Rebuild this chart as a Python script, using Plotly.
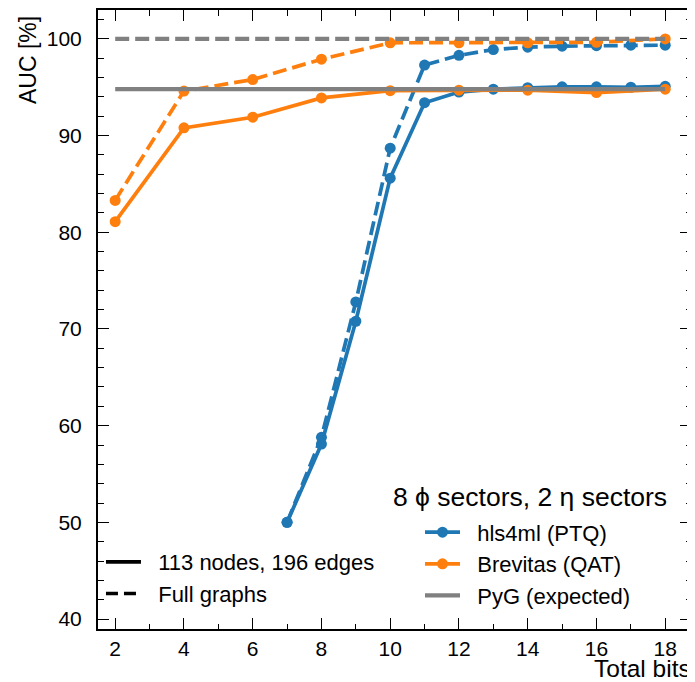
import plotly.graph_objects as go

# ---- data ----
bits_hls = [7, 8, 9, 10, 11, 12, 13, 14, 15, 16, 17, 18]
hls_sparse = [50.0, 58.1, 70.8, 85.6, 93.4, 94.5, 94.8, 94.95, 95.05, 95.05, 95.0, 95.1]
hls_full = [50.0, 58.8, 72.8, 88.7, 97.3, 98.3, 98.9, 99.15, 99.25, 99.3, 99.35, 99.35]

bits_brev = [2, 4, 6, 8, 10, 12, 14, 16, 18]
brev_sparse = [81.1, 90.8, 91.9, 93.9, 94.65, 94.7, 94.7, 94.45, 94.8]
brev_full = [83.3, 94.6, 95.8, 97.9, 99.6, 99.6, 99.6, 99.65, 100.0]

pyg_bits = [2, 18]
pyg_sparse = [94.8, 94.8]
pyg_full = [100.0, 100.0]

x_ticks = [2, 4, 6, 8, 10, 12, 14, 16, 18]
y_ticks = [40, 50, 60, 70, 80, 90, 100]

BLUE = "#1f77b4"
ORANGE = "#ff7f0e"
GREY = "#808080"
FONT = "Liberation Sans"
DASH = "14px,6px"
LW = 3.7
GLW = 4.2
MS = 11
NB = "\u00a0\u00a0"

fig = go.Figure()

def add(x, y, color, dash, markers=True):
    fig.add_trace(go.Scatter(
        x=x, y=y, mode="lines+markers" if markers else "lines",
        line=dict(color=color, width=LW if markers else GLW, dash=dash),
        marker=dict(color=color, size=MS),
        showlegend=False, hoverinfo="skip"))

add(bits_hls, hls_sparse, BLUE, "solid")
add(bits_hls, hls_full, BLUE, DASH)
add(bits_brev, brev_sparse, ORANGE, "solid")
add(bits_brev, brev_full, ORANGE, DASH)
add(pyg_bits, pyg_sparse, GREY, "solid", markers=False)
add(pyg_bits, pyg_full, GREY, DASH, markers=False)

# legend 1: line styles
fig.add_trace(go.Scatter(x=[None], y=[None], mode="lines", name=NB + "113 nodes, 196 edges",
                         line=dict(color="black", width=LW), legend="legend"))
fig.add_trace(go.Scatter(x=[None], y=[None], mode="lines", name=NB + "Full graphs",
                         line=dict(color="black", width=LW, dash="12px,6px"), legend="legend"))
# legend 2: tools
fig.add_trace(go.Scatter(x=[None], y=[None], mode="lines+markers", name=NB + "hls4ml (PTQ)",
                         line=dict(color=BLUE, width=LW), marker=dict(color=BLUE, size=MS), legend="legend2"))
fig.add_trace(go.Scatter(x=[None], y=[None], mode="lines+markers", name=NB + "Brevitas (QAT)",
                         line=dict(color=ORANGE, width=LW), marker=dict(color=ORANGE, size=MS), legend="legend2"))
fig.add_trace(go.Scatter(x=[None], y=[None], mode="lines", name=NB + "PyG (expected)",
                         line=dict(color=GREY, width=GLW), legend="legend2"))

axis_common = dict(
    showgrid=False, zeroline=False, showline=True, linecolor="black", linewidth=2,
    mirror="allticks", ticks="inside", ticklen=11, tickwidth=1.2, tickcolor="black",
    tickfont=dict(family=FONT, size=21, color="black"),
)

fig.update_xaxes(range=[1.5, 18.75], tickmode="array", tickvals=x_ticks,
                 ticktext=[str(v) for v in x_ticks],
                 minor=dict(ticks="inside", ticklen=5.5, tickwidth=1, tickcolor="black", dtick=1, tick0=0),
                 **axis_common)
fig.update_yaxes(range=[38.97, 102.99], tickmode="array", tickvals=y_ticks,
                 ticktext=[str(v) for v in y_ticks], ticklabelstandoff=10,
                 minor=dict(ticks="inside", ticklen=5.5, tickwidth=1, tickcolor="black", dtick=2, tick0=40),
                 **axis_common)

fig.update_layout(
    width=687, height=674,
    margin=dict(l=90, r=4, t=0, b=53),
    plot_bgcolor="white", paper_bgcolor="white",
    font=dict(family=FONT, color="black"),
    legend=dict(x=0.005, y=0.142, xanchor="left", yanchor="top",
                bgcolor="rgba(0,0,0,0)", font=dict(family=FONT, size=22),
                itemwidth=35),
    legend2=dict(x=0.543, y=0.190, xanchor="left", yanchor="top",
                 bgcolor="rgba(0,0,0,0)", font=dict(family=FONT, size=22),
                 itemwidth=35),
    annotations=[
        dict(text="8 ϕ sectors, 2 η sectors", xref="paper", yref="paper", x=0.7285, y=0.2126,
             xanchor="center", yanchor="middle", showarrow=False,
             font=dict(family=FONT, size=26.5, color="black")),
        dict(text="Total bits", xref="paper", yref="paper", x=1.0035, y=-0.0635,
             xanchor="right", yanchor="middle", showarrow=False,
             font=dict(family=FONT, size=24.5, color="black")),
        dict(text="AUC [%]", xref="paper", yref="paper", x=-0.118, y=0.9936,
             xanchor="center", yanchor="top", textangle=-90, showarrow=False,
             font=dict(family=FONT, size=23, color="black")),
    ],
)

fig.write_html("out.html")
